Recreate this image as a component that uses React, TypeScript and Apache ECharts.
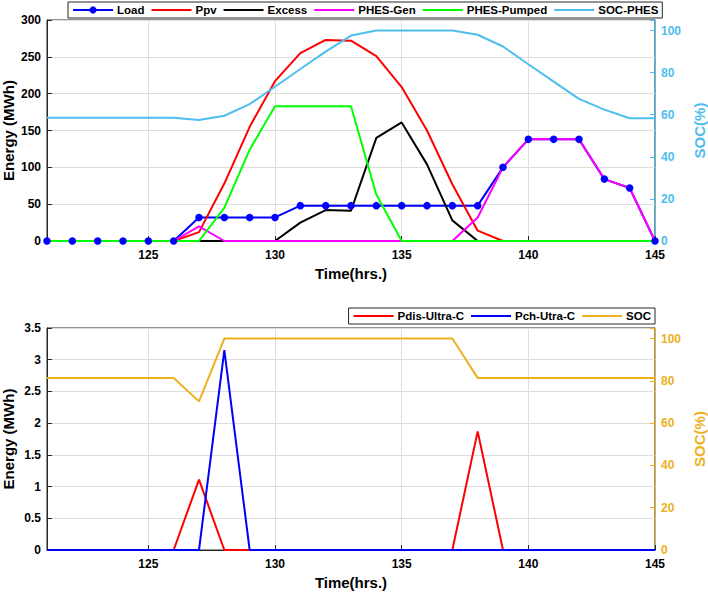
import React, { useEffect, useRef } from 'react';
import * as echarts from 'echarts';

const FONT = "'Liberation Sans', Arial, Helvetica, sans-serif";

const hours = [121, 122, 123, 124, 125, 126, 127, 128, 129, 130, 131, 132, 133, 134, 135, 136, 137, 138, 139, 140, 141, 142, 143, 144, 145];

// Top panel (MWh)
const load = [0, 0, 0, 0, 0, 0, 32, 32, 32, 32, 48, 48, 48, 48, 48, 48, 48, 48, 100, 138, 138, 138, 84, 72, 0];
const ppv = [0, 0, 0, 0, 0, 0, 12, 78, 155, 217, 255, 273, 272, 251, 209, 150, 77, 14, 0, 0, 0, 0, 0, 0, 0];
const excess = [0, 0, 0, 0, 0, 0, 0, 0, 0, 0, 25, 42, 41, 140, 161, 104, 28, 0, 0, 0, 0, 0, 0, 0, 0];
const phesGen = [0, 0, 0, 0, 0, 0, 20, 0, 0, 0, 0, 0, 0, 0, 0, 0, 0, 32, 100, 138, 138, 138, 84, 72, 0];
const phesPumped = [0, 0, 0, 0, 0, 0, 0, 45, 124, 183, 183, 183, 183, 63, 0, 0, 0, 0, 0, 0, 0, 0, 0, 0, 0];
// Top panel SOC (%)
const socPhes = [58.5, 58.5, 58.5, 58.5, 58.5, 58.5, 57.5, 59.5, 65, 73.3, 81.7, 90, 97.6, 100, 100, 100, 100, 98, 92.4, 84, 75.7, 67.5, 62.4, 58.3, 58.3];

// Bottom panel (MWh)
const pdisUltraC = [0, 0, 0, 0, 0, 0, 1.11, 0, 0, 0, 0, 0, 0, 0, 0, 0, 0, 1.87, 0, 0, 0, 0, 0, 0, 0];
const pchUltraC = [0, 0, 0, 0, 0, 0, 0, 3.15, 0, 0, 0, 0, 0, 0, 0, 0, 0, 0, 0, 0, 0, 0, 0, 0, 0];
// Bottom panel SOC (%)
const socUltraC = [81.4, 81.4, 81.4, 81.4, 81.4, 81.4, 70.3, 100, 100, 100, 100, 100, 100, 100, 100, 100, 100, 81.4, 81.4, 81.4, 81.4, 81.4, 81.4, 81.4, 81.4];

const topNames = ['Load', 'Ppv', 'Excess', 'PHES-Gen', 'PHES-Pumped', 'SOC-PHES'];
const bottomNames = ['Pdis-Ultra-C', 'Pch-Utra-C', 'SOC'];
const dotted = ['Load'];

const pair = (vals: number[]) => vals.map((v, i) => [hours[i], v]);

const AX = '#262626';
const GRIDC = '#dedede';
const SOC1 = '#4DBEEE';
const SOC2 = '#EDB120';

function xAxisFor(gridIndex: number) {
  return {
    type: 'value',
    gridIndex,
    min: 121,
    max: 145,
    name: 'Time(hrs.)',
    nameLocation: 'middle',
    nameGap: 25,
    nameTextStyle: { fontSize: 15, fontWeight: 'bold', color: '#000', fontFamily: FONT },
    axisLine: { lineStyle: { color: AX, width: 1 } },
    axisTick: { inside: true, length: 5, lineStyle: { color: AX } },
    axisLabel: {
      margin: 8,
      fontSize: 12,
      fontWeight: 'bold',
      color: '#000',
      fontFamily: FONT,
      formatter: (v: number) => (v % 5 === 0 ? String(v) : ''),
    },
    splitLine: { show: true, lineStyle: { color: GRIDC, width: 1 } },
  };
}

function leftAxis(gridIndex: number, max: number, interval: number) {
  return {
    type: 'value',
    gridIndex,
    min: 0,
    max,
    interval,
    position: 'left',
    name: 'Energy (MWh)',
    nameLocation: 'middle',
    nameGap: 31,
    nameMoveOverlap: false,
    nameTextStyle: { fontSize: 15, fontWeight: 'bold', color: '#000', fontFamily: FONT },
    axisLine: { show: true, lineStyle: { color: AX, width: 1 } },
    axisTick: { show: true, inside: true, length: 5, lineStyle: { color: AX } },
    axisLabel: { margin: 6, fontSize: 12, fontWeight: 'bold', color: '#000', fontFamily: FONT },
    splitLine: { show: true, lineStyle: { color: GRIDC, width: 1 } },
  };
}

function rightAxis(gridIndex: number, color: string) {
  return {
    type: 'value',
    gridIndex,
    min: 0,
    max: 105,
    interval: 20,
    position: 'right',
    name: 'SOC(%)',
    nameLocation: 'middle',
    nameGap: 37,
    nameMoveOverlap: false,
    nameTextStyle: { fontSize: 15, fontWeight: 'bold', color, fontFamily: FONT },
    axisLine: { show: true, lineStyle: { color, width: 1 } },
    axisTick: { show: true, inside: true, length: 5, lineStyle: { color } },
    axisLabel: {
      margin: 6,
      fontSize: 12,
      fontWeight: 'bold',
      color,
      fontFamily: FONT,
      formatter: (v: number) => (v > 100 ? '' : String(v)),
    },
    splitLine: { show: false },
  };
}

function line(name: string, data: number[], color: string, xAxisIndex: number, yAxisIndex: number, withDots = false) {
  return {
    type: 'line',
    name,
    data: pair(data),
    xAxisIndex,
    yAxisIndex,
    symbol: withDots ? 'circle' : 'none',
    symbolSize: 7.5,
    showSymbol: withDots,
    lineStyle: { color, width: 2 },
    itemStyle: { color },
    emphasis: { disabled: true },
  };
}

const legendBase = {
  orient: 'horizontal',
  itemWidth: 40,
  itemHeight: 9,
  itemGap: 6,
  padding: [2, 4],
  borderColor: AX,
  borderWidth: 1,
  borderRadius: 0,
  backgroundColor: '#ffffff',
  textStyle: { fontSize: 11.5, fontWeight: 'bold', color: '#000', fontFamily: FONT, padding: [0, 0, 0, -1] },
  selectedMode: false,
};

const legendData = (names: string[]) =>
  names.map((n) => (dotted.includes(n) ? { name: n } : { name: n, itemStyle: { opacity: 0 } }));

export default function App() {
  const ref = useRef<HTMLDivElement>(null);
  useEffect(() => {
    if (!ref.current) return;
    const chart = echarts.init(ref.current, null, { renderer: 'svg' });
    chart.setOption({
      animation: false,
      backgroundColor: '#ffffff',
      textStyle: { fontFamily: FONT, fontWeight: 'bold' },
      grid: [
        { left: 47, top: 20, width: 608, height: 221, show: true, borderColor: AX, borderWidth: 1, backgroundColor: 'transparent', outerBoundsMode: 'none', containLabel: false },
        { left: 47, top: 328, width: 608, height: 222, show: true, borderColor: AX, borderWidth: 1, backgroundColor: 'transparent', outerBoundsMode: 'none', containLabel: false },
      ],
      xAxis: [xAxisFor(0), xAxisFor(1)],
      yAxis: [leftAxis(0, 300, 50), rightAxis(0, SOC1), leftAxis(1, 3.5, 0.5), rightAxis(1, SOC2)],
      legend: [
        { ...legendBase, data: legendData(topNames), left: 68, top: 2 },
        { ...legendBase, data: legendData(bottomNames), right: 53, top: 308 },
      ],
      series: [
        line('Load', load, '#0000FF', 0, 0, true),
        line('Ppv', ppv, '#FF0000', 0, 0),
        line('Excess', excess, '#000000', 0, 0),
        line('PHES-Gen', phesGen, '#FF00FF', 0, 0),
        line('PHES-Pumped', phesPumped, '#00FF00', 0, 0),
        line('SOC-PHES', socPhes, SOC1, 0, 1),
        line('Pdis-Ultra-C', pdisUltraC, '#FF0000', 1, 2),
        line('Pch-Utra-C', pchUltraC, '#0000FF', 1, 2),
        line('SOC', socUltraC, SOC2, 1, 3),
      ],
    });
    return () => chart.dispose();
  }, []);
  return <div ref={ref} style={{ position: 'absolute', left: 0, top: 0, width: 708, height: 594 }} />;
}
